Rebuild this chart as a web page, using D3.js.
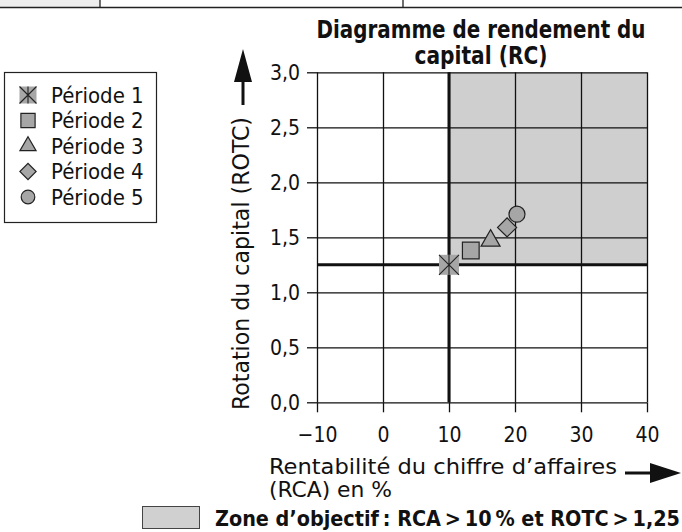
<!DOCTYPE html>
<html lang="fr">
<head>
    <meta charset="UTF-8">
    <title>Diagramme de rendement du capital</title>
    <script src="https://cdn.jsdelivr.net/npm/d3@7"></script>
    <style>
        body { margin: 0; background: #fff; }
        text { font-family: "Liberation Sans Narrow", "DejaVu Sans Condensed", "Roboto Condensed", sans-serif; font-stretch: condensed; fill: #111; }
    </style>
</head>
<body>
<script>
    // données
    var periodes = ["Période 1", "Période 2", "Période 3", "Période 4", "Période 5"];
    var rca = [10, 13.3, 16.3, 18.8, 20.3];
    var rotc = [1.25, 1.38, 1.47, 1.59, 1.71];
    var symboles = ["asterisque", "carre", "triangle", "losange", "cercle"];
    var xTicks = [-10, 0, 10, 20, 30, 40];
    var yTicks = [0, 0.5, 1, 1.5, 2, 2.5, 3];
    var seuilRCA = 10, seuilROTC = 1.25;

    var width = 682, height = 532;
    var svg = d3.select("body").append("svg")
            .attr("width", width)
            .attr("height", height);

    var fr = d3.formatLocale({decimal: ",", thousands: " ", grouping: [3], currency: ["", " €"], minus: "\u2212"});

    var x = d3.scaleLinear().domain([-10, 40]).range([317, 647]);
    var y = d3.scaleLinear().domain([0, 3]).range([402.3, 72.3]);

    // la police étroite n'est pas là : on resserre le texte à la largeur voulue
    function serre(sel, w) {
        sel.attr("textLength", w).attr("lengthAdjust", "spacingAndGlyphs");
    }

    // bandeau du haut (reste d'un tableau)
    svg.append("rect").attr("x", 0).attr("y", 0).attr("width", 100).attr("height", 7).style("fill", "#eee");
    svg.append("line").attr("x1", 0).attr("x2", width).attr("y1", 7.5).attr("y2", 7.5)
            .style("stroke", "#222").style("stroke-width", 1.5);
    [100, 403].forEach(function (d) {
        svg.append("line").attr("x1", d).attr("x2", d).attr("y1", 0).attr("y2", 8)
                .style("stroke", "#222").style("stroke-width", 1.3);
    });

    // zone d'objectif
    svg.append("rect")
            .attr("x", x(seuilRCA)).attr("y", y(3))
            .attr("width", x(40) - x(seuilRCA))
            .attr("height", y(seuilROTC) - y(3))
            .style("fill", "#cfcfcf");

    // grille + axes
    var gx = svg.append("g").attr("transform", "translate(0," + y(0) + ")")
            .call(d3.axisBottom(x).tickValues(xTicks).tickSize(-(y(0) - y(3))).tickFormat(fr.format("d")));
    var gy = svg.append("g").attr("transform", "translate(" + x(-10) + ",0)")
            .call(d3.axisLeft(y).tickValues(yTicks).tickSize(-(x(40) - x(-10))).tickFormat(fr.format(".1f")));
    [gx, gy].forEach(function (g) {
        g.select(".domain").remove();
        g.selectAll(".tick line").style("stroke", "#111").style("stroke-width", 1.3);
        g.selectAll(".tick text").style("font-size", "21px").style("fill", "#111");
    });
    // petites graduations à l'extérieur
    gx.selectAll(".tick").append("line").attr("y1", 0).attr("y2", 10).style("stroke", "#111").style("stroke-width", 1.3);
    gy.selectAll(".tick").append("line").attr("x1", 0).attr("x2", -10).style("stroke", "#111").style("stroke-width", 1.3);
    gx.selectAll(".tick text").attr("y", 25).attr("dy", "0.71em");
    gy.selectAll(".tick text").attr("x", -17).attr("dy", "0.36em");

    // seuils
    svg.append("line").attr("x1", x(seuilRCA)).attr("x2", x(seuilRCA)).attr("y1", y(3)).attr("y2", y(0))
            .style("stroke", "#111").style("stroke-width", 3);
    svg.append("line").attr("x1", x(-10)).attr("x2", x(40)).attr("y1", y(seuilROTC)).attr("y2", y(seuilROTC))
            .style("stroke", "#111").style("stroke-width", 3);

    // symboles
    function dessine(g, type, k) {
        var gris = "#a6a6a6", trait = "#222";
        if (type === "asterisque") {
            var h = 10 * k;
            g.append("rect").attr("x", -h).attr("y", -h).attr("width", 2 * h).attr("height", 2 * h).style("fill", gris);
            g.append("path").attr("d", "M" + (-h) + "," + (-h) + "L" + h + "," + h + "M" + h + "," + (-h) + "L" + (-h) + "," + h + "M0," + (-h) + "L0," + h)
                    .style("stroke", trait).style("stroke-width", 1.1).style("fill", "none");
            return;
        }
        var s;
        if (type === "carre") s = d3.symbol(d3.symbolSquare, 279 * k * k);
        if (type === "triangle") s = d3.symbol(d3.symbolTriangle, 156 * k * k);
        if (type === "losange") s = d3.symbol(d3.symbolSquare, 182 * k * k);
        if (type === "cercle") s = d3.symbol(d3.symbolCircle, 201 * k * k);
        g.append("path").attr("d", s)
                .attr("transform", type === "losange" ? "rotate(45)" : null)
                .style("fill", gris).style("stroke", trait).style("stroke-width", 1.2);
    }

    svg.selectAll("g.point")
            .data(periodes)
            .enter().append("g")
            .attr("class", "point")
            .attr("transform", function (d, i) {
                return "translate(" + x(rca[i]) + "," + y(rotc[i]) + ")";
            })
            .each(function (d, i) {
                dessine(d3.select(this), symboles[i], 1);
            });

    // légende
    svg.append("rect").attr("x", 4.5).attr("y", 72.5).attr("width", 152).attr("height", 150)
            .style("fill", "#fff").style("stroke", "#222").style("stroke-width", 1.2);
    var leg = svg.selectAll("g.leg")
            .data(periodes)
            .enter().append("g")
            .attr("class", "leg")
            .attr("transform", function (d, i) {
                return "translate(28," + (95 + i * 25.5) + ")";
            });
    leg.each(function (d, i) {
        dessine(d3.select(this), symboles[i], 0.85);
    });
    leg.append("text").attr("x", 23).attr("dy", "0.36em").style("font-size", "22px").text(function (d) {
        return d;
    });

    // titre
    svg.append("text").attr("x", 481).attr("y", 38).attr("text-anchor", "middle")
            .style("font-size", "25px").style("font-weight", "bold").text("Diagramme de rendement du")
            .call(serre, 329);
    svg.append("text").attr("x", 481).attr("y", 64).attr("text-anchor", "middle")
            .style("font-size", "25px").style("font-weight", "bold").text("capital (RC)")
            .call(serre, 133);

    // titre axe y + flèche
    svg.append("text").attr("transform", "translate(249,410) rotate(-90)")
            .style("font-size", "23px").text("Rotation du capital (ROTC)")
            .call(serre, 293);
    svg.append("line").attr("x1", 243).attr("x2", 243).attr("y1", 80).attr("y2", 105)
            .style("stroke", "#111").style("stroke-width", 3);
    svg.append("path").attr("d", "M243,49L252,82L234,82Z").style("fill", "#111");

    // titre axe x + flèche
    svg.append("text").attr("x", 269).attr("y", 474).style("font-size", "22px")
            .text("Rentabilité du chiffre d’affaires")
            .call(serre, 348);
    svg.append("text").attr("x", 269).attr("y", 497).style("font-size", "22px")
            .text("(RCA) en %")
            .call(serre, 123);
    svg.append("line").attr("x1", 625).attr("x2", 652).attr("y1", 473).attr("y2", 473)
            .style("stroke", "#111").style("stroke-width", 3);
    svg.append("path").attr("d", "M681,473L650,463L650,483Z").style("fill", "#111");

    // légende de la zone
    svg.append("rect").attr("x", 142.5).attr("y", 506.5).attr("width", 57).attr("height", 22)
            .style("fill", "#d0d0d0").style("stroke", "#444").style("stroke-width", 1);
    svg.append("text").attr("x", 215).attr("y", 526).style("font-size", "22px").style("font-weight", "bold")
            .text("Zone d’objectif\u2009: RCA\u2009>\u200910\u2009% et ROTC\u2009>\u20091,25")
            .call(serre, 465);
</script>
</body>
</html>
